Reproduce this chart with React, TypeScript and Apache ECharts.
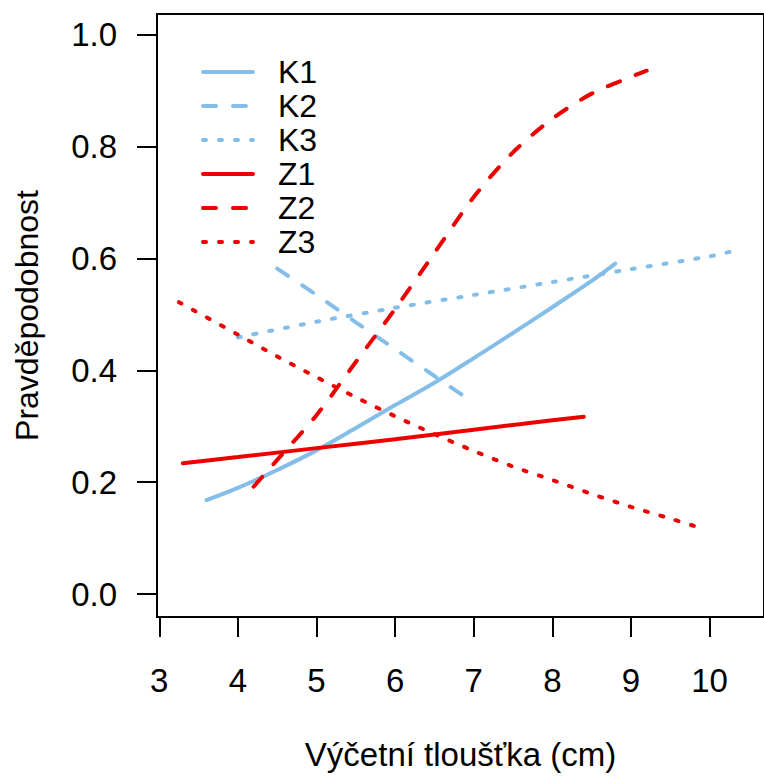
import React, { useEffect, useRef } from "react";
import * as echarts from "echarts";

const xTicks = [3, 4, 5, 6, 7, 8, 9, 10];
const yTicks = [0, 0.2, 0.4, 0.6, 0.8, 1.0];

const seriesNames = ["K1", "K2", "K3", "Z1", "Z2", "Z3"];

const xK1 = [3.6, 4.0, 4.5, 5.0, 5.5, 6.0, 6.5, 7.0, 7.5, 8.0, 8.5, 8.8];
const yK1 = [0.168, 0.19, 0.222, 0.257, 0.297, 0.338, 0.378, 0.422, 0.467, 0.513, 0.56, 0.591];

const xK2 = [4.5, 5.0, 5.5, 6.0, 6.5, 7.0];
const yK2 = [0.582, 0.535, 0.486, 0.438, 0.39, 0.342];

const xK3 = [4.0, 5.0, 6.0, 7.0, 8.0, 9.0, 10.0, 10.4];
const yK3 = [0.459, 0.487, 0.512, 0.535, 0.558, 0.581, 0.604, 0.617];

const xZ1 = [3.3, 4.0, 5.0, 6.0, 7.0, 8.0, 8.4];
const yZ1 = [0.234, 0.245, 0.261, 0.277, 0.294, 0.311, 0.317];

const xZ2 = [4.2, 4.5, 5.0, 5.5, 6.0, 6.5, 7.0, 7.5, 8.0, 8.5, 9.0, 9.2];
const yZ2 = [0.192, 0.24, 0.32, 0.415, 0.51, 0.61, 0.71, 0.79, 0.85, 0.895, 0.925, 0.936];

const xZ3 = [3.25, 4.0, 4.5, 5.0, 5.5, 6.0, 6.5, 7.0, 7.5, 8.0, 8.5, 9.0, 9.5, 9.8];
const yZ3 = [0.522, 0.464, 0.425, 0.388, 0.352, 0.318, 0.286, 0.256, 0.228, 0.204, 0.179, 0.156, 0.135, 0.122];

const BLUE = "#84BEE8";
const RED = "#EC0000";
const DASH = [13, 17];
const DOT = [3, 13];

const FONT = "Liberation Sans, Arial, sans-serif";

function pairs(xs: number[], ys: number[]) {
  return xs.map((x, i) => [x, ys[i]]);
}

export default function App() {
  const ref = useRef<HTMLDivElement>(null);
  useEffect(() => {
    if (!ref.current) return;
    const chart = echarts.init(ref.current, undefined, { renderer: "svg" });
    const defs = [
      { name: seriesNames[0], data: pairs(xK1, yK1), color: BLUE, type: "solid" },
      { name: seriesNames[1], data: pairs(xK2, yK2), color: BLUE, type: DASH },
      { name: seriesNames[2], data: pairs(xK3, yK3), color: BLUE, type: DOT },
      { name: seriesNames[3], data: pairs(xZ1, yZ1), color: RED, type: "solid" },
      { name: seriesNames[4], data: pairs(xZ2, yZ2), color: RED, type: DASH },
      { name: seriesNames[5], data: pairs(xZ3, yZ3), color: RED, type: DOT },
    ];
    const gridLeft = 157;
    const gridTop = 14;
    const gridWidth = 610;
    const gridHeight = 605;
    const xMin = 2.971;
    const xMax = xMin + gridWidth / 79;
    const yMin = -0.041;
    const yMax = 1.0374;
    chart.setOption({
      animation: false,
      backgroundColor: "#ffffff",
      grid: {
        left: gridLeft,
        top: gridTop,
        width: gridWidth,
        height: gridHeight,
        show: true,
        borderColor: "#000",
        borderWidth: 2,
        backgroundColor: "transparent",
      },
      legend: {
        data: seriesNames,
        orient: "vertical",
        left: 201,
        top: 56,
        padding: 0,
        itemWidth: 50,
        itemHeight: 14,
        itemGap: 2,
        lineStyle: { width: 4 },
        itemStyle: { opacity: 0, borderWidth: 0, color: "transparent" },
        textStyle: {
          fontFamily: FONT,
          fontSize: 32,
          lineHeight: 32,
          color: "#000",
          padding: [0, 0, 0, 20],
        },
      },
      xAxis: {
        type: "value",
        min: xMin,
        max: xMax,
        name: "Výčetní tloušťka (cm)",
        nameLocation: "middle",
        nameGap: 121,
        nameTextStyle: { fontFamily: FONT, fontSize: 33, color: "#000" },
        axisLine: { show: false, onZero: false },
        splitLine: { show: false },
        axisTick: {
          show: true,
          length: 20,
          lineStyle: { color: "#000", width: 2 },
          customValues: xTicks,
        },
        axisLabel: {
          fontFamily: FONT,
          fontSize: 33,
          color: "#000",
          margin: 47,
          customValues: xTicks,
          formatter: (v: number) => String(v),
        },
      },
      yAxis: {
        type: "value",
        min: yMin,
        max: yMax,
        name: "Pravděpodobnost",
        nameLocation: "middle",
        nameGap: 114,
        nameTextStyle: { fontFamily: FONT, fontSize: 32, color: "#000" },
        axisLine: { show: false, onZero: false },
        splitLine: { show: false },
        axisTick: {
          show: true,
          length: 20,
          lineStyle: { color: "#000", width: 2 },
          customValues: yTicks,
        },
        axisLabel: {
          fontFamily: FONT,
          fontSize: 33,
          color: "#000",
          margin: 40,
          customValues: yTicks,
          formatter: (v: number) => v.toFixed(1),
        },
      },
      series: defs.map((d) => ({
        name: d.name,
        type: "line",
        data: d.data,
        symbol: "none",
        smooth: 0.3,
        color: d.color,
        lineStyle: { color: d.color, width: 4, type: d.type, cap: "round" },
        emphasis: { disabled: true },
      })),
    });
    return () => chart.dispose();
  }, []);
  return (
    <div
      ref={ref}
      style={{ position: "absolute", left: 0, top: 0, width: 764, height: 776, background: "#fff" }}
    />
  );
}
